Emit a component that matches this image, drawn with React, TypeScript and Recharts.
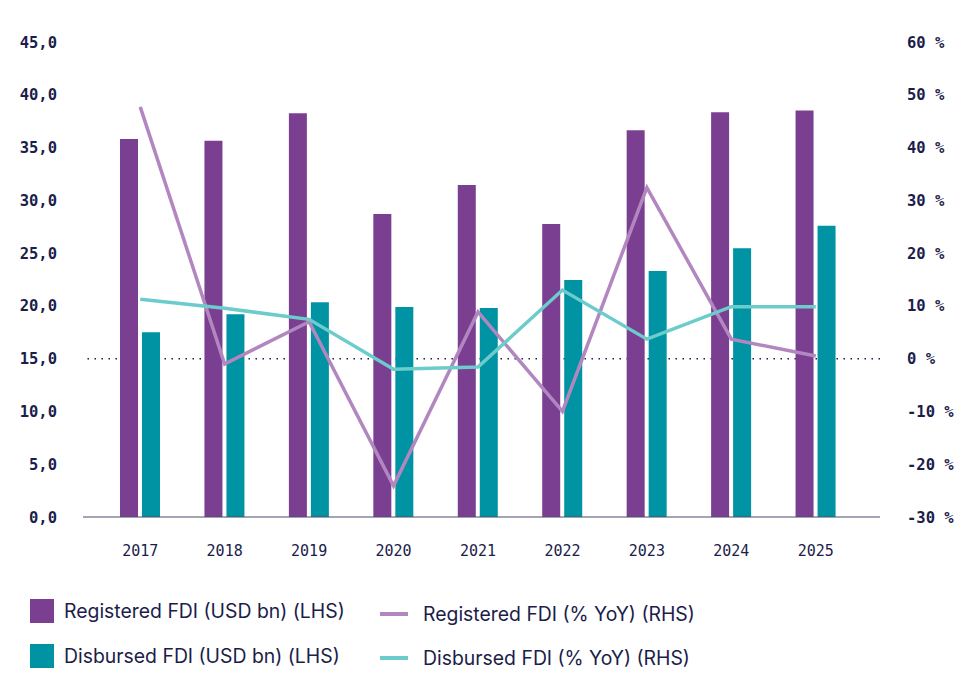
import React from 'react';
import { ComposedChart, Bar, Line, XAxis, YAxis, ReferenceLine } from 'recharts';

const years = ['2017', '2018', '2019', '2020', '2021', '2022', '2023', '2024', '2025'];
const registeredFdi = [35.8, 35.65, 38.25, 28.7, 31.45, 27.75, 36.65, 38.35, 38.5];
const disbursedFdi = [17.5, 19.2, 20.35, 19.9, 19.8, 22.45, 23.3, 25.45, 27.6];
const registeredYoy = [47.7, -1.0, 7.0, -24.1, 8.85, -10.0, 32.4, 3.7, 0.5];
const disbursedYoy = [11.25, 9.55, 7.45, -2.0, -1.6, 13.0, 3.7, 9.85, 9.85];
const leftTicks = [0, 5, 10, 15, 20, 25, 30, 35, 40, 45];
const rightTicks = [-30, -20, -10, 0, 10, 20, 30, 40, 50, 60];

const regColor = '#7b3f92';
const disColor = '#0093a3';
const regLineColor = '#b287bf';
const disLineColor = '#6ccccc';
const navy = '#1b1d4a';
const monoFont = '"DejaVu Sans Mono", monospace';

const data = years.map((year, i) => ({
  year,
  registered: registeredFdi[i],
  disbursed: disbursedFdi[i],
  registeredYoy: registeredYoy[i],
  disbursedYoy: disbursedYoy[i],
}));

const legendText: React.CSSProperties = {
  fontFamily: 'Inter, "Noto Sans", sans-serif',
  fontSize: 19.4,
  color: navy,
  whiteSpace: 'nowrap',
};

function LegendItem({ x, y, color, label, kind }: { x: number; y: number; color: string; label: string; kind: 'box' | 'line' }) {
  return (
    <div style={{ position: 'absolute', left: x, top: y, display: 'flex', alignItems: 'center', height: 24 }}>
      {kind === 'box' ? (
        <div style={{ width: 24, height: 24, background: color, marginRight: 10 }} />
      ) : (
        <div style={{ width: 28, height: 4, background: color, marginRight: 15 }} />
      )}
      <span style={legendText}>{label}</span>
    </div>
  );
}

export default function App() {
  return (
    <div style={{ position: 'absolute', left: 0, top: 0, width: 975, height: 699, background: '#fff' }}>
      <ComposedChart
        width={975}
        height={580}
        data={data}
        margin={{ top: 42, right: 0, bottom: 0, left: 0 }}
        barSize={18}
        barGap={4}
      >
        <XAxis
          dataKey="year"
          padding={{ left: 15, right: 22 }}
          height={63}
          tickSize={0}
          tickMargin={28}
          stroke="#4a4d6a"
          tick={{ fill: navy, fontFamily: monoFont, fontSize: 15 }}
        />
        <YAxis
          yAxisId="left"
          orientation="left"
          width={83}
          domain={[0, 45]}
          ticks={leftTicks}
          interval={0}
          axisLine={false}
          tickSize={0}
          tickMargin={26}
          tickFormatter={(v: number) => v.toFixed(1).replace('.', ',')}
          tick={{ fill: navy, fontFamily: monoFont, fontSize: 15.5, fontWeight: 700 }}
        />
        <YAxis
          yAxisId="right"
          orientation="right"
          width={95}
          domain={[-30, 60]}
          ticks={rightTicks}
          interval={0}
          axisLine={false}
          tickSize={0}
          tickMargin={27}
          tickFormatter={(v: number) => `${v} %`}
          tick={{ fill: navy, fontFamily: monoFont, fontSize: 15.5, fontWeight: 700 }}
        />
        <ReferenceLine
          yAxisId="right"
          y={0}
          stroke={navy}
          strokeWidth={1.5}
          strokeDasharray="1.5 5.5"
          zIndex={0}
        />
        <Bar yAxisId="left" dataKey="registered" fill={regColor} isAnimationActive={false} />
        <Bar yAxisId="left" dataKey="disbursed" fill={disColor} isAnimationActive={false} />
        <Line
          yAxisId="right"
          dataKey="registeredYoy"
          stroke={regLineColor}
          strokeWidth={3.5}
          dot={false}
          activeDot={false}
          type="linear"
          isAnimationActive={false}
        />
        <Line
          yAxisId="right"
          dataKey="disbursedYoy"
          stroke={disLineColor}
          strokeWidth={3.5}
          dot={false}
          activeDot={false}
          type="linear"
          isAnimationActive={false}
        />
      </ComposedChart>
      <LegendItem x={30} y={599} color={regColor} label="Registered FDI (USD bn) (LHS)" kind="box" />
      <LegendItem x={30} y={644} color={disColor} label="Disbursed FDI (USD bn) (LHS)" kind="box" />
      <LegendItem x={380} y={602} color={regLineColor} label="Registered FDI (% YoY) (RHS)" kind="line" />
      <LegendItem x={380} y={646} color={disLineColor} label="Disbursed FDI (% YoY) (RHS)" kind="line" />
    </div>
  );
}
